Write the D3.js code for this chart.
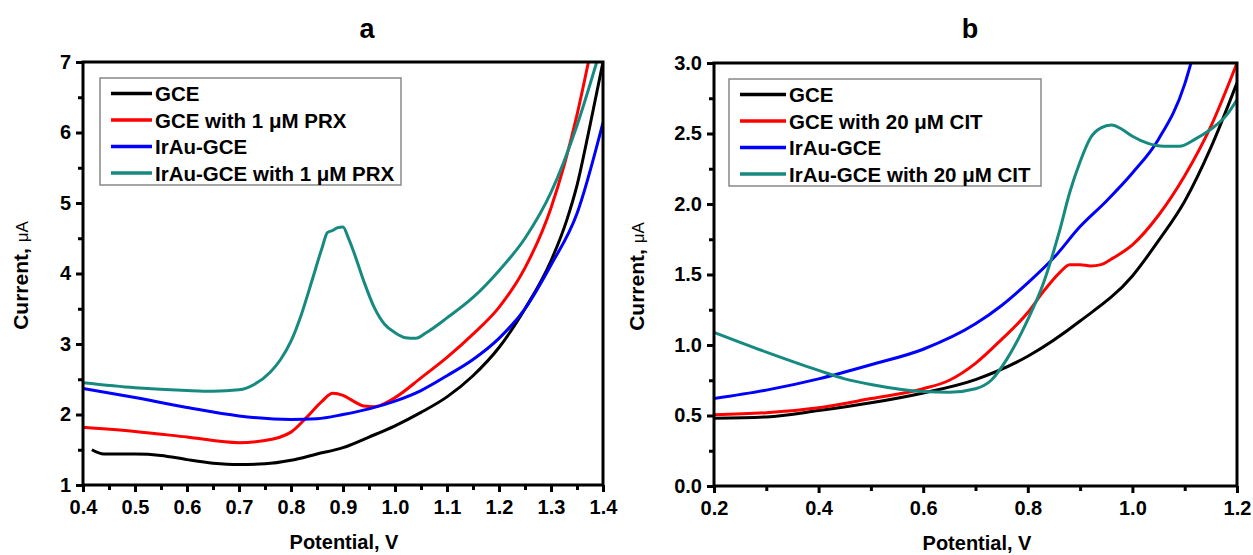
<!DOCTYPE html>
<html>
<head>
<meta charset="utf-8">
<script src="https://cdn.jsdelivr.net/npm/d3@7"></script>
<style>
body { margin: 0; background: #fff; }
text { font-family: "Liberation Sans", Arial, sans-serif; font-weight: bold; fill: #000; }
</style>
</head>
<body>
<svg id="chart" width="1253" height="555"></svg>
<script>
// ---- panel a : PRX ----
var gceA_x = [0.417, 0.44, 0.5, 0.55, 0.6, 0.65, 0.7, 0.75, 0.8, 0.85, 0.9, 0.95, 1.0, 1.05, 1.1, 1.15, 1.2, 1.25, 1.3, 1.33, 1.35, 1.375, 1.4];
var gceA_y = [1.50, 1.44, 1.44, 1.42, 1.36, 1.31, 1.29, 1.30, 1.35, 1.44, 1.53, 1.68, 1.84, 2.03, 2.25, 2.55, 2.95, 3.50, 4.18, 4.75, 5.25, 6.1, 7.0];

var gcePrxA_x = [0.4, 0.5, 0.6, 0.7, 0.75, 0.8, 0.83, 0.86, 0.88, 0.9, 0.92, 0.94, 0.96, 1.0, 1.05, 1.1, 1.15, 1.2, 1.25, 1.3, 1.35, 1.372];
var gcePrxA_y = [1.82, 1.76, 1.68, 1.60, 1.63, 1.75, 1.96, 2.19, 2.30, 2.27, 2.19, 2.12, 2.11, 2.24, 2.52, 2.81, 3.14, 3.52, 4.08, 4.93, 6.25, 7.0];

var irauA_x = [0.4, 0.5, 0.6, 0.7, 0.8, 0.85, 0.9, 0.95, 1.0, 1.05, 1.1, 1.15, 1.2, 1.25, 1.3, 1.35, 1.4];
var irauA_y = [2.37, 2.24, 2.10, 1.98, 1.93, 1.94, 2.00, 2.08, 2.19, 2.34, 2.55, 2.78, 3.08, 3.50, 4.12, 4.85, 6.14];

var irauPrxA_x = [0.4, 0.5, 0.6, 0.65, 0.7, 0.73, 0.76, 0.78, 0.8, 0.82, 0.84, 0.86, 0.87, 0.88, 0.89, 0.9, 0.91, 0.92, 0.94, 0.96, 0.98, 1.0, 1.02, 1.04, 1.06, 1.1, 1.15, 1.2, 1.25, 1.3, 1.35, 1.388];
var irauPrxA_y = [2.45, 2.38, 2.34, 2.33, 2.35, 2.43, 2.60, 2.78, 3.04, 3.42, 3.89, 4.37, 4.58, 4.61, 4.65, 4.66, 4.51, 4.32, 3.89, 3.52, 3.28, 3.16, 3.09, 3.08, 3.16, 3.37, 3.66, 4.04, 4.50, 5.15, 6.10, 7.0];

var labelsA = ["GCE", "GCE with 1 \u03bcM PRX", "IrAu-GCE", "IrAu-GCE with 1 \u03bcM PRX"];
var xTicksA = [0.4, 0.5, 0.6, 0.7, 0.8, 0.9, 1.0, 1.1, 1.2, 1.3, 1.4];
var yTicksA = [1, 2, 3, 4, 5, 6, 7];

// ---- panel b : CIT ----
var gceB_x = [0.2, 0.3, 0.4, 0.5, 0.6, 0.7, 0.8, 0.9, 1.0, 1.05, 1.1, 1.15, 1.2];
var gceB_y = [0.48, 0.49, 0.535, 0.59, 0.66, 0.755, 0.92, 1.17, 1.49, 1.74, 2.02, 2.40, 2.86];

var gcePrxB_x = [0.2, 0.3, 0.4, 0.5, 0.6, 0.65, 0.7, 0.75, 0.8, 0.83, 0.86, 0.88, 0.9, 0.92, 0.94, 0.96, 1.0, 1.05, 1.1, 1.15, 1.2];
var gcePrxB_y = [0.505, 0.52, 0.555, 0.62, 0.69, 0.75, 0.87, 1.04, 1.23, 1.38, 1.51, 1.57, 1.57, 1.56, 1.57, 1.61, 1.71, 1.92, 2.20, 2.55, 3.0];

var irauB_x = [0.2, 0.3, 0.4, 0.5, 0.6, 0.7, 0.75, 0.8, 0.85, 0.9, 0.95, 1.0, 1.05, 1.1, 1.112];
var irauB_y = [0.62, 0.68, 0.76, 0.86, 0.97, 1.15, 1.28, 1.44, 1.62, 1.84, 2.02, 2.22, 2.46, 2.85, 3.0];

var irauPrxB_x = [0.2, 0.3, 0.4, 0.45, 0.5, 0.6, 0.65, 0.7, 0.73, 0.76, 0.8, 0.83, 0.86, 0.88, 0.9, 0.92, 0.94, 0.96, 0.98, 1.0, 1.03, 1.06, 1.09, 1.12, 1.15, 1.18, 1.2];
var irauPrxB_y = [1.09, 0.95, 0.82, 0.76, 0.72, 0.67, 0.665, 0.69, 0.75, 0.90, 1.18, 1.44, 1.80, 2.08, 2.30, 2.47, 2.54, 2.56, 2.53, 2.48, 2.43, 2.41, 2.41, 2.46, 2.53, 2.63, 2.74];

var labelsB = ["GCE", "GCE with 20 \u03bcM CIT", "IrAu-GCE", "IrAu-GCE with 20 \u03bcM CIT"];
var xTicksB = [0.2, 0.4, 0.6, 0.8, 1.0, 1.2];
var yTicksB = [0.0, 0.5, 1.0, 1.5, 2.0, 2.5, 3.0];

var colors = ["#000000", "#ff0000", "#0000ff", "#178a80"];

var svg = d3.select("#chart");

var zip = function (xs, ys) {
    return xs.map(function (x, i) { return [x, ys[i]]; });
};

var panels = [
    {
        id: "a", letterX: 367, left: 83, right: 603, top: 62, bottom: 485,
        xDomain: [0.4, 1.4], yDomain: [1, 7],
        xTicks: xTicksA, yTicks: yTicksA,
        xMinor: d3.range(0.45, 1.4, 0.1), yMinor: d3.range(1.5, 7, 1),
        xFmt: d3.format(".1f"), yFmt: d3.format("d"),
        series: [zip(gceA_x, gceA_y), zip(gcePrxA_x, gcePrxA_y), zip(irauA_x, irauA_y), zip(irauPrxA_x, irauPrxA_y)],
        labels: labelsA,
        legend: {x0: 100, x1: 401, y0: 78, y1: 185, l0: 111, l1: 152, tx: 155},
        yTitleX: 28, xTitleX: 344, xTitleY: 549
    },
    {
        id: "b", letterX: 970, left: 714, right: 1237, top: 63, bottom: 486,
        xDomain: [0.2, 1.2], yDomain: [0, 3],
        xTicks: xTicksB, yTicks: yTicksB,
        xMinor: d3.range(0.3, 1.2, 0.2), yMinor: d3.range(0.25, 3, 0.5),
        xFmt: d3.format(".1f"), yFmt: d3.format(".1f"),
        series: [zip(gceB_x, gceB_y), zip(gcePrxB_x, gcePrxB_y), zip(irauB_x, irauB_y), zip(irauPrxB_x, irauPrxB_y)],
        labels: labelsB,
        legend: {x0: 729, x1: 1041, y0: 79, y1: 186, l0: 740, l1: 786, tx: 789},
        yTitleX: 644, xTitleX: 977, xTitleY: 550
    }
];

var drawPanel = function (p) {
    var x = d3.scaleLinear().domain(p.xDomain).range([p.left, p.right]);
    var y = d3.scaleLinear().domain(p.yDomain).range([p.bottom, p.top]);
    var g = svg.append("g").attr("class", "panel-" + p.id);

    // panel letter
    g.append("text")
        .attr("x", p.letterX)
        .attr("y", 38)
        .attr("text-anchor", "middle")
        .attr("font-size", 27)
        .text(p.id);

    // clip for curves
    g.append("clipPath")
        .attr("id", "clip-" + p.id)
        .append("rect")
        .attr("x", p.left)
        .attr("y", p.top)
        .attr("width", p.right - p.left)
        .attr("height", p.bottom - p.top);

    var line = d3.line()
        .x(function (d) { return x(d[0]); })
        .y(function (d) { return y(d[1]); })
        .curve(d3.curveMonotoneX);

    g.append("g")
        .attr("clip-path", "url(#clip-" + p.id + ")")
        .selectAll("path")
        .data(p.series)
        .enter()
        .append("path")
        .attr("d", line)
        .attr("fill", "none")
        .attr("stroke", function (d, i) { return colors[i]; })
        .attr("stroke-width", 3)
        .attr("stroke-linejoin", "round");

    // axes: major + minor ticks
    g.append("g")
        .attr("transform", "translate(0," + p.bottom + ")")
        .call(d3.axisBottom(x).tickValues(p.xTicks).tickFormat(p.xFmt).tickSize(7).tickSizeOuter(0).tickPadding(8));
    g.append("g")
        .attr("transform", "translate(0," + p.bottom + ")")
        .call(d3.axisBottom(x).tickValues(p.xMinor).tickFormat("").tickSize(5).tickSizeOuter(0));
    g.append("g")
        .attr("transform", "translate(" + p.left + ",0)")
        .call(d3.axisLeft(y).tickValues(p.yTicks).tickFormat(p.yFmt).tickSize(7).tickSizeOuter(0).tickPadding(5));
    g.append("g")
        .attr("transform", "translate(" + p.left + ",0)")
        .call(d3.axisLeft(y).tickValues(p.yMinor).tickFormat("").tickSize(5).tickSizeOuter(0));

    g.selectAll(".domain").remove();
    g.selectAll(".tick line").attr("stroke", "#000").attr("stroke-width", 3);
    g.selectAll(".tick text")
        .attr("font-size", 20)
        .attr("font-family", "'Liberation Sans', Arial, sans-serif")
        .attr("font-weight", "bold")
        .attr("fill", "#000");

    // frame
    g.append("rect")
        .attr("x", p.left)
        .attr("y", p.top)
        .attr("width", p.right - p.left)
        .attr("height", p.bottom - p.top)
        .attr("fill", "none")
        .attr("stroke", "#000")
        .attr("stroke-width", 3);

    // axis titles
    g.append("text")
        .attr("x", p.xTitleX)
        .attr("y", p.xTitleY)
        .attr("text-anchor", "middle")
        .attr("font-size", 20)
        .text("Potential, V");

    var yt = g.append("text")
        .attr("transform", "translate(" + p.yTitleX + "," + ((p.top + p.bottom) / 2 + 2) + ") rotate(-90)")
        .attr("text-anchor", "middle")
        .attr("font-size", 21);
    yt.append("tspan").text("Current, ");
    yt.append("tspan").attr("font-weight", "normal").attr("font-size", 17).text("\u03bcA");

    // legend
    var lg = p.legend;
    g.append("rect")
        .attr("x", lg.x0)
        .attr("y", lg.y0)
        .attr("width", lg.x1 - lg.x0)
        .attr("height", lg.y1 - lg.y0)
        .attr("fill", "#fff")
        .attr("stroke", "#888")
        .attr("stroke-width", 1.5);

    var rowY = function (i) { return lg.y0 + 15.5 + i * 26.5; };

    g.selectAll(".leg-line")
        .data(p.labels)
        .enter()
        .append("line")
        .attr("x1", lg.l0)
        .attr("x2", lg.l1)
        .attr("y1", function (d, i) { return rowY(i); })
        .attr("y2", function (d, i) { return rowY(i); })
        .attr("stroke", function (d, i) { return colors[i]; })
        .attr("stroke-width", 3.5);

    g.selectAll(".leg-text")
        .data(p.labels)
        .enter()
        .append("text")
        .attr("x", lg.tx)
        .attr("y", function (d, i) { return rowY(i) + 7.5; })
        .attr("font-size", 20.5)
        .text(function (d) { return d; });
};

panels.forEach(drawPanel);
</script>
</body>
</html>
